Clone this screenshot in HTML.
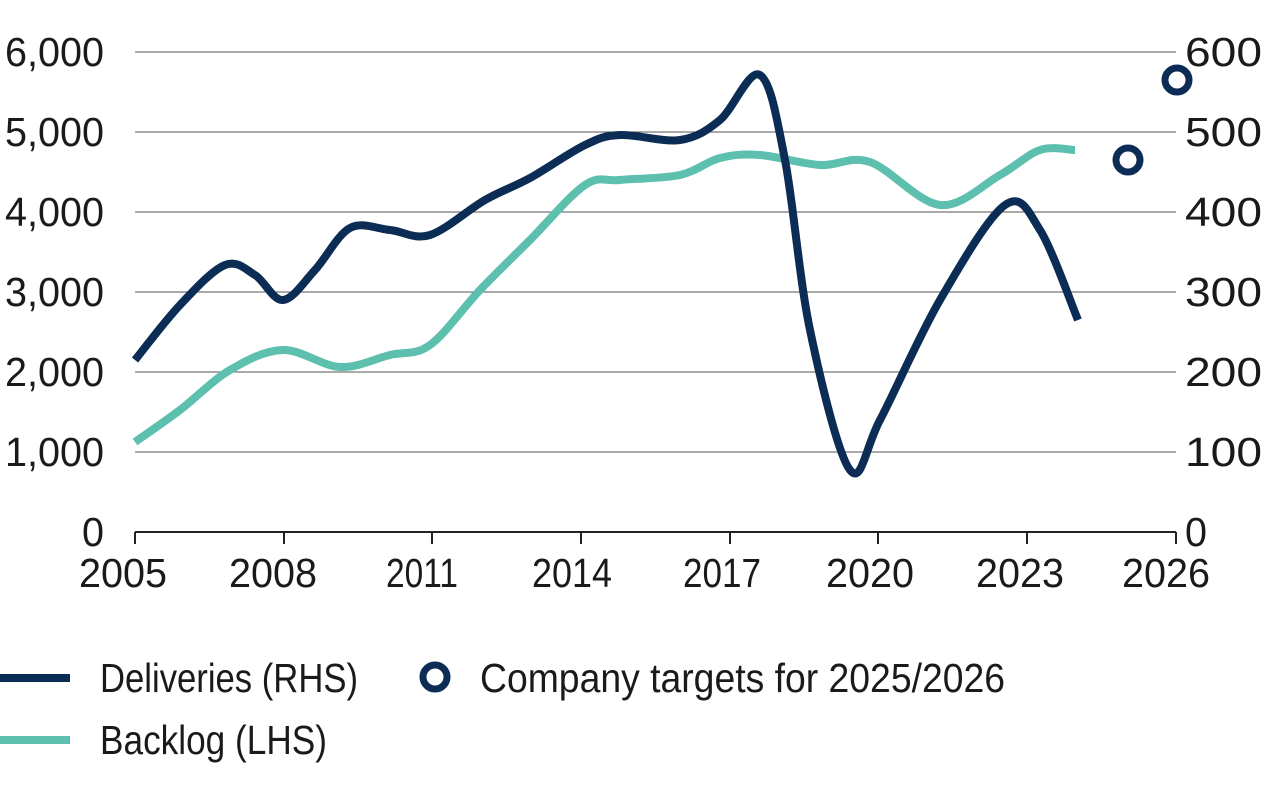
<!DOCTYPE html>
<html><head><meta charset="utf-8"><style>
html,body{margin:0;padding:0;background:#fff;width:1280px;height:799px;overflow:hidden}
svg text{font-family:"Liberation Sans",sans-serif;fill:#1a1a1a}
</style></head><body>
<svg id="s" width="1280" height="799" viewBox="0 0 1280 799" xmlns="http://www.w3.org/2000/svg">
<g stroke="#555" stroke-width="1">
<line x1="135" y1="52" x2="1176" y2="52"/><line x1="135" y1="132" x2="1176" y2="132"/>
<line x1="135" y1="212" x2="1176" y2="212"/><line x1="135" y1="292" x2="1176" y2="292"/>
<line x1="135" y1="372" x2="1176" y2="372"/><line x1="135" y1="452" x2="1176" y2="452"/>
</g>
<g stroke="#222" stroke-width="2">
<line x1="135" y1="532" x2="1176" y2="532"/>
<line x1="135" y1="532" x2="135" y2="544"/><line x1="284" y1="532" x2="284" y2="544"/>
<line x1="432" y1="532" x2="432" y2="544"/><line x1="581" y1="532" x2="581" y2="544"/>
<line x1="730" y1="532" x2="730" y2="544"/><line x1="878" y1="532" x2="878" y2="544"/>
<line x1="1027" y1="532" x2="1027" y2="544"/><line x1="1176" y1="532" x2="1176" y2="544"/>
</g>
<g font-size="41" lengthAdjust="spacingAndGlyphs">
<text x="5" y="66" textLength="99" lengthAdjust="spacingAndGlyphs">6,000</text>
<text x="5" y="146" textLength="99" lengthAdjust="spacingAndGlyphs">5,000</text>
<text x="5" y="226" textLength="99" lengthAdjust="spacingAndGlyphs">4,000</text>
<text x="5" y="306" textLength="99" lengthAdjust="spacingAndGlyphs">3,000</text>
<text x="5" y="386" textLength="99" lengthAdjust="spacingAndGlyphs">2,000</text>
<text x="5" y="466" textLength="99" lengthAdjust="spacingAndGlyphs">1,000</text>
<text x="82" y="546" textLength="22" lengthAdjust="spacingAndGlyphs">0</text>
<text x="1185" y="66" textLength="77" lengthAdjust="spacingAndGlyphs">600</text>
<text x="1185" y="146" textLength="77" lengthAdjust="spacingAndGlyphs">500</text>
<text x="1185" y="226" textLength="77" lengthAdjust="spacingAndGlyphs">400</text>
<text x="1185" y="306" textLength="77" lengthAdjust="spacingAndGlyphs">300</text>
<text x="1185" y="386" textLength="77" lengthAdjust="spacingAndGlyphs">200</text>
<text x="1185" y="466" textLength="77" lengthAdjust="spacingAndGlyphs">100</text>
<text x="1185" y="546" textLength="22" lengthAdjust="spacingAndGlyphs">0</text>
<text x="79" y="587" textLength="88" lengthAdjust="spacingAndGlyphs">2005</text>
<text x="229" y="587" textLength="88" lengthAdjust="spacingAndGlyphs">2008</text>
<text x="386" y="587" textLength="72" lengthAdjust="spacingAndGlyphs">2011</text>
<text x="532" y="587" textLength="80" lengthAdjust="spacingAndGlyphs">2014</text>
<text x="683" y="587" textLength="78" lengthAdjust="spacingAndGlyphs">2017</text>
<text x="826" y="587" textLength="88" lengthAdjust="spacingAndGlyphs">2020</text>
<text x="976" y="587" textLength="88" lengthAdjust="spacingAndGlyphs">2023</text>
<text x="1122" y="587" textLength="88" lengthAdjust="spacingAndGlyphs">2026</text>
</g>
<path id="bk" fill="none" stroke="#5dbfae" stroke-width="8"/>
<path id="dl" fill="none" stroke="#0b2c54" stroke-width="8"/>
<circle cx="1128" cy="160" r="12" fill="#fff" stroke="#0b2c54" stroke-width="7"/>
<circle cx="1177" cy="80" r="12" fill="#fff" stroke="#0b2c54" stroke-width="7"/>
<line x1="0" y1="678" x2="70" y2="678" stroke="#0b2c54" stroke-width="8"/>
<text x="100" y="692" font-size="41" textLength="258" lengthAdjust="spacingAndGlyphs">Deliveries (RHS)</text>
<circle cx="435" cy="677" r="12" fill="#fff" stroke="#0b2c54" stroke-width="7"/>
<text x="480" y="692" font-size="41" textLength="525" lengthAdjust="spacingAndGlyphs">Company targets for 2025/2026</text>
<line x1="0" y1="740" x2="70" y2="740" stroke="#5dbfae" stroke-width="8"/>
<text x="100" y="754" font-size="41" textLength="227" lengthAdjust="spacingAndGlyphs">Backlog (LHS)</text>
</svg>
<script>
function cr(p){var d="M"+p[0][0]+","+p[0][1];for(var i=0;i<p.length-1;i++){var p0=p[i-1]||p[i],p1=p[i],p2=p[i+1],p3=p[i+2]||p2;
d+=" C"+(p1[0]+(p2[0]-p0[0])/6)+","+(p1[1]+(p2[1]-p0[1])/6)+" "+(p2[0]-(p3[0]-p1[0])/6)+","+(p2[1]-(p3[1]-p1[1])/6)+" "+p2[0]+","+p2[1];}return d;}
var dl=[[135,360],[180,305],[225,265],[255,275],[283,300],[315,270],[350,228],[390,230],[430,235],[485,200],[530,178],[585,145],[620,135],[680,140],[720,120],[760,75],[785,160],[810,330],[850,470],[880,420],[940,300],[1005,205],[1040,230],[1078,320]];
var bk=[[135,442],[180,410],[230,370],[283,350],[340,367],[390,355],[430,345],[480,290],[530,240],[585,185],[620,180],[680,175],[720,158],[760,155],[820,165],[870,162],[940,205],[1000,175],[1040,150],[1075,150]];
document.getElementById("dl").setAttribute("d",cr(dl));
document.getElementById("bk").setAttribute("d",cr(bk));
</script>
</body></html>
